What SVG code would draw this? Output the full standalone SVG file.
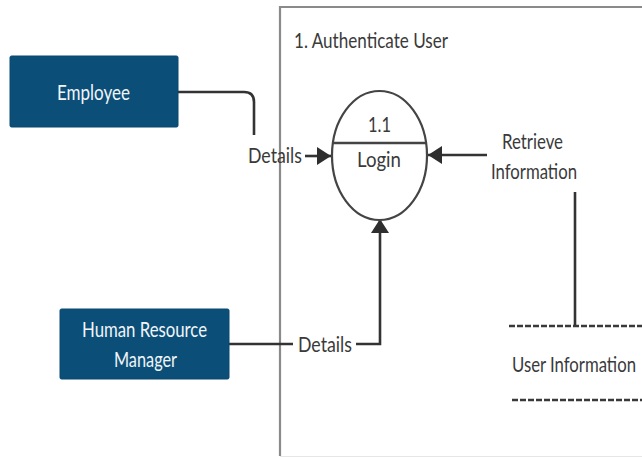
<svg xmlns="http://www.w3.org/2000/svg" width="642" height="457" viewBox="0 0 642 457">
  <style>
    .lbl { font-family: Lato, "Open Sans", "Liberation Sans", sans-serif; font-size: 21px; fill: #3a3a3a; }
    .ent { fill: #0b4f78; stroke: #0a4870; stroke-width: 1; }
    .entTxt { font-family: Lato, "Open Sans", "Liberation Sans", sans-serif; font-size: 21px; fill: #f2f5f8; text-anchor: middle; }
    .flow { fill: none; stroke: #333333; stroke-width: 2.6; }
    .store { fill: none; stroke: #3a3a3a; stroke-width: 2.4; stroke-dasharray: 6 2; }
  </style>
  <defs>
    <marker id="arrow" viewBox="0 0 14 18" refX="14" refY="9" markerWidth="14" markerHeight="18" markerUnits="userSpaceOnUse" orient="auto">
      <path d="M0,0 L14,9 L0,18 Z" fill="#2e2e2e"/>
    </marker>
  </defs>

  <rect width="642" height="457" fill="#ffffff"/>

  <!-- process boundary -->
  <g id="boundary">
    <path d="M644,7 H280 V456" fill="none" stroke="#8a8a8a" stroke-width="2.2"/>
    <line x1="280" y1="456.5" x2="642" y2="456.5" stroke="#e6e6e6" stroke-width="1"/>
    <text class="lbl" x="294" y="48" textLength="154" lengthAdjust="spacingAndGlyphs">1. Authenticate User</text>
  </g>

  <!-- connectors -->
  <g id="connectors">
    <path class="flow" d="M177,92 H244 Q254,92 254,102 V135"/>
    <line class="flow" x1="305" y1="156" x2="331" y2="156" marker-end="url(#arrow)"/>
    <line class="flow" x1="487" y1="155" x2="428" y2="155" marker-end="url(#arrow)"/>
    <line class="flow" x1="575" y1="192" x2="575" y2="326"/>
    <path class="flow" d="M229,344 H293"/>
    <path class="flow" d="M356,344 H380 V219" marker-end="url(#arrow)"/>
    <text class="lbl" x="248" y="163" textLength="54" lengthAdjust="spacingAndGlyphs">Details</text>
    <text class="lbl" x="298" y="352" textLength="54" lengthAdjust="spacingAndGlyphs">Details</text>
    <text class="lbl" x="502" y="149" textLength="61" lengthAdjust="spacingAndGlyphs">Retrieve</text>
    <text class="lbl" x="491" y="179" textLength="86" lengthAdjust="spacingAndGlyphs">Information</text>
  </g>

  <!-- external entity: Employee -->
  <g id="employee">
    <rect class="ent" x="10" y="56" width="168" height="71" rx="1.5"/>
    <text class="entTxt" x="93.5" y="100" textLength="73" lengthAdjust="spacingAndGlyphs">Employee</text>
  </g>

  <!-- external entity: Human Resource Manager -->
  <g id="hr-manager">
    <rect class="ent" x="60" y="309" width="169" height="70" rx="1.5"/>
    <text class="entTxt" x="144.5" y="337" textLength="125" lengthAdjust="spacingAndGlyphs">Human Resource</text>
    <text class="entTxt" x="145.5" y="367" textLength="63" lengthAdjust="spacingAndGlyphs">Manager</text>
  </g>

  <!-- process 1.1 Login -->
  <g id="login">
    <ellipse cx="379.5" cy="155.5" rx="47.5" ry="64.5" fill="#ffffff" stroke="#444444" stroke-width="2.2"/>
    <line x1="332" y1="143" x2="427" y2="143" stroke="#444444" stroke-width="2.4"/>
    <text class="lbl" x="379.5" y="132" text-anchor="middle" textLength="23" lengthAdjust="spacingAndGlyphs">1.1</text>
    <text class="lbl" x="379" y="167" text-anchor="middle" textLength="44" lengthAdjust="spacingAndGlyphs">Login</text>
  </g>

  <!-- data store: User Information -->
  <g id="user-information">
    <line class="store" x1="509" y1="326" x2="642" y2="326"/>
    <line class="store" x1="512" y1="400" x2="642" y2="400"/>
    <text class="lbl" x="512" y="372" textLength="124" lengthAdjust="spacingAndGlyphs">User Information</text>
  </g>
</svg>
